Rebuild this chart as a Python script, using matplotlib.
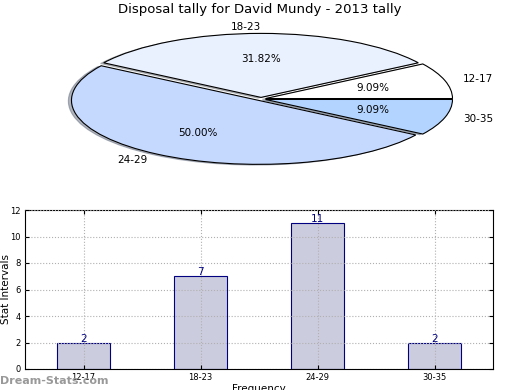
import matplotlib
matplotlib.use("Agg")
import matplotlib.pyplot as plt

categories = ["12-17", "18-23", "24-29", "30-35"]
counts = [2, 7, 11, 2]
pie_colors = ["#ffffff", "#eaf1fe", "#c5d8fe", "#b3d4fe"]
title = "Disposal tally for David Mundy - 2013 tally"

fig = plt.figure(figsize=(5.2, 3.9), dpi=100)

# Pie (stretched into ellipse)
cx, cy, rx, ry = 261, 99, 187, 64
ax1 = fig.add_axes([0, 1 - 185 / 390, 1, 165 / 390])
wedges, texts, autotexts = ax1.pie(
    counts, labels=categories, colors=pie_colors, autopct="%.2f%%",
    explode=[0.025] * 4,
    shadow=dict(ox=-0.012, oy=-0.008, shade=0.5),
    startangle=0, pctdistance=0.6,
    labeldistance=1.1, wedgeprops=dict(edgecolor="black", linewidth=0.8),
    textprops=dict(fontsize=7.5))
ax1.set_aspect("auto")
ax1.set_xlim((0 - cx) / rx, (520 - cx) / rx)
ax1.set_ylim(-(185 - cy) / ry, (cy - 20) / ry)
ax1.axis("off")
fig.text(0.5, 1 - 10 / 390, title, ha="center", va="center", fontsize=9.5)

# Bars
ax2 = fig.add_axes([25 / 520, 1 - 369 / 390, 468 / 520, 159 / 390])
x = list(range(len(categories)))
bars = ax2.bar(x, counts, width=0.45, color="#ccccdf", edgecolor="#000080",
               linewidth=0.8, zorder=2)
for xi, v in zip(x, counts):
    ax2.text(xi, v + 0.3, str(v), ha="center", va="center", fontsize=7.5,
             color="#000080", zorder=4)
ax2.set_xlim(-0.5, 3.5)
ax2.set_ylim(0, 12)
ax2.set_yticks(range(0, 13, 2))
ax2.set_xticks(x)
ax2.set_xticklabels(categories)
ax2.tick_params(labelsize=6, direction="in", length=3, top=True, right=True,
                pad=3)
ax2.set_axisbelow(False)
ax2.grid(True, linestyle=":", color="#b0b0b0", linewidth=0.8, zorder=3)
ax2.set_ylabel("Stat Intervals", fontsize=7.5)
ax2.yaxis.set_label_coords((11 - 25) / 468, 0.5)
ax2.set_xlabel("Frequency", fontsize=7.5)
ax2.xaxis.set_label_coords(0.5, -(384 - 369) / 159)

fig.text(0.0, 1 - 381 / 390, "Dream-Stats.com", ha="left", va="center",
         fontsize=8, color="#999999", fontweight="bold")

fig.savefig("out.png", dpi=100)
